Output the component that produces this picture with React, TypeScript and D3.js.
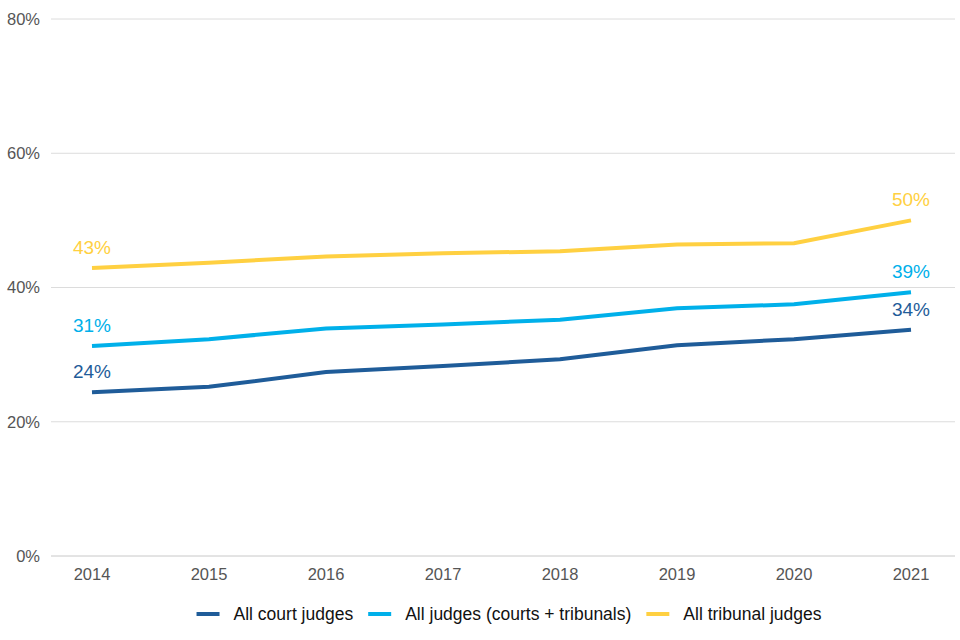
import React, { useEffect, useRef } from 'react';
import * as d3 from 'd3';

const years = [2014, 2015, 2016, 2017, 2018, 2019, 2020, 2021];
const courtJudges = [24.4, 25.2, 27.4, 28.3, 29.3, 31.4, 32.3, 33.7];
const allJudges = [31.3, 32.3, 33.9, 34.5, 35.2, 36.9, 37.5, 39.3];
const tribunalJudges = [42.9, 43.7, 44.6, 45.1, 45.4, 46.4, 46.6, 50.0];
const yTicks = [0, 20, 40, 60, 80];

const seriesNames = ['All court judges', 'All judges (courts + tribunals)', 'All tribunal judges'];
const seriesColors = ['#1f5c99', '#00b0ea', '#ffd041'];

const width = 960;
const height = 640;

export default function App() {
  const svgRef = useRef<SVGSVGElement>(null);

  useEffect(() => {
    if (svgRef.current === null) {
      return;
    }
    const svg = d3.select(svgRef.current);
    svg.selectAll('*').remove();

    const font = '"Liberation Sans", Arial, sans-serif';
    const x = d3.scalePoint<number>().domain(years).range([92, 911]);
    const y = d3.scaleLinear().domain([0, 80]).range([556, 19]);

    // gridlines + y labels
    const grid = svg.append('g');
    grid
      .selectAll('line')
      .data(yTicks)
      .join('line')
      .attr('x1', 51)
      .attr('x2', 955)
      .attr('y1', (d) => y(d))
      .attr('y2', (d) => y(d))
      .attr('stroke', (d) => (d === 0 ? '#c8c8c8' : '#dcdcdc'))
      .attr('stroke-width', 1);

    grid
      .selectAll('text')
      .data(yTicks)
      .join('text')
      .attr('x', 40)
      .attr('y', (d) => y(d))
      .attr('dy', '0.35em')
      .attr('text-anchor', 'end')
      .attr('fill', '#555')
      .style('font', `16.5px ${font}`)
      .text((d) => `${d}%`);

    // x labels
    svg
      .append('g')
      .selectAll('text')
      .data(years)
      .join('text')
      .attr('x', (d) => x(d)!)
      .attr('y', 580)
      .attr('text-anchor', 'middle')
      .attr('fill', '#555')
      .style('font', `16.5px ${font}`)
      .text((d) => d);

    const series = [courtJudges, allJudges, tribunalJudges];
    const line = d3
      .line<number>()
      .x((_, i) => x(years[i])!)
      .y((d) => y(d));

    series.forEach((vals, si) => {
      svg
        .append('path')
        .datum(vals)
        .attr('d', line)
        .attr('fill', 'none')
        .attr('stroke', seriesColors[si])
        .attr('stroke-width', 4);

      const ends = [0, vals.length - 1];
      svg
        .append('g')
        .selectAll('text')
        .data(ends)
        .join('text')
        .attr('x', (i) => x(years[i])!)
        .attr('y', (i) => y(vals[i]) - 14)
        .attr('text-anchor', 'middle')
        .attr('fill', seriesColors[si])
        .style('font', `19px ${font}`)
        .text((i) => `${Math.round(vals[i])}%`);
    });

    // legend, centred
    const legend = svg.append('g');
    let cx = 0;
    seriesNames.forEach((name, i) => {
      const item = legend.append('g').attr('transform', `translate(${cx},0)`);
      item
        .append('line')
        .attr('x1', 0)
        .attr('x2', 23)
        .attr('y1', 0)
        .attr('y2', 0)
        .attr('stroke', seriesColors[i])
        .attr('stroke-width', 4);
      const t = item
        .append('text')
        .attr('x', 37)
        .attr('dy', '0.35em')
        .attr('fill', '#111')
        .style('font', `17.5px ${font}`)
        .text(name);
      const w = (t.node() as SVGTextElement).getComputedTextLength();
      cx += 37 + w + 15;
    });
    const total = cx - 15;
    legend.attr('transform', `translate(${192 + (826 - 192 - total) / 2},614)`);
  }, []);

  return (
    <div style={{ position: 'absolute', left: 0, top: 0 }}>
      <svg ref={svgRef} width={width} height={height} style={{ display: 'block', background: '#fff' }} />
    </div>
  );
}
